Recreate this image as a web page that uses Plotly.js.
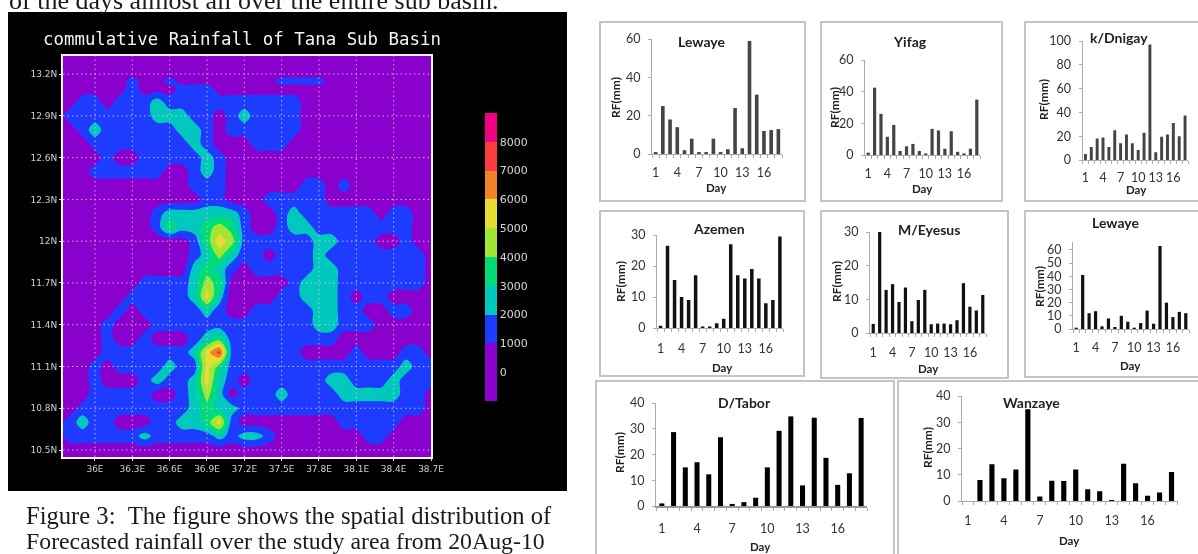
<!DOCTYPE html>
<html>
<head>
<meta charset="utf-8">
<script src="https://cdn.plot.ly/plotly-3.0.1.min.js"></script>
<style>html,body{margin:0;padding:0;background:#fff}#chart{width:1198px;height:554px;filter:blur(0.5px)}</style>
</head>
<body>
<div id="chart"></div>
<script>
const W = 1198, H = 554;

// ---- rainfall map: each digit is the colour band read at that grid point (band n = n*1000..n*1000+1000)
const lons = [35.7,35.8,35.9,36,36.1,36.2,36.3,36.4,36.5,36.6,36.7,36.8,36.9,37,37.1,37.2,37.3,37.4,37.5,37.6,37.7,37.8,37.9,38,38.1,38.2,38.3,38.4,38.5,38.6,38.7];
const lats = [13.4,13.3,13.2,13.15,13.1,13,12.9,12.8,12.7,12.6,12.5,12.4,12.3,12.2,12.1,12,11.9,11.8,11.7,11.6,11.5,11.4,11.3,11.2,11.1,11,10.9,10.8,10.7,10.6,10.5,10.4];
const rainBands = [
 "0000000000000000000000000000000",
 "0000000000000000000000000000000",
 "0000000000000000000000000000000",
 "0000001001000000001111000000000",
 "0000001000111000000000000000000",
 "0011011121111111111100000000000",
 "0111111122211012111100000000000",
 "0012111111221011111100000000000",
 "0001111111121000111000000000000",
 "0000100111112100000000000000000",
 "0001111110012100000000000000000",
 "0000000000011100000011010000000",
 "0000000000001100011111000000000",
 "0000000012222221001211111101100",
 "0000000013223431001221111111100",
 "0000000000013541111112211100100",
 "0000000000012421101112111111110",
 "0000000000023210111112211111110",
 "0000000111124300000122211111110",
 "0000001111125200001122210110000",
 "0000010111112100111112211001100",
 "0000100011111111111112211100000",
 "0000100100012311111111100000000",
 "0000111111125711111100001000110",
 "0001011112115311111111111111211",
 "0001000121125210111111221112111",
 "0001111100124201112111122222110",
 "0011111111123221111111111111110",
 "0121100011223510000000011111000",
 "0111111211111212210000000110000",
 "0000000000000000000000000000000",
 "0000000000000000000000000000000"
];
const rainZ = rainBands.map(r => r.split("").map(d => Number(d) * 1000 + 500));
const bandColors = ["#8a00cc","#8a00cc","#1e3cff","#00c8bc","#00dc78","#a0e632","#e6dc32","#f08228","#fa3c3c","#f00082"];
const lonTicks = [36,36.3,36.6,36.9,37.2,37.5,37.8,38.1,38.4,38.7];
const latTicks = [13.2,12.9,12.6,12.3,12,11.7,11.4,11.1,10.8,10.5];
const legendTicks = [0,1000,2000,3000,4000,5000,6000,7000,8000];

// ---- station rainfall (mm) for days 1..18
const days = [1,2,3,4,5,6,7,8,9,10,11,12,13,14,15,16,17,18];
const dayTicks = [1,4,7,10,13,16];
const lewayeA = [1,25,18,14,2,8,1,1,8,1,2.5,24,3,59,31,12,12.5,13];
const yifag = [1.5,42.5,26,11.5,19,2.5,5.5,7,2.5,1,16.5,15.5,4,15,2,1,4,35];
const dnigay = [5,11,18,19,11,25,14,21.5,14,8.5,23,97,6.5,19.5,21.5,31,20,37.5];
const azemen = [0.7,26.5,15.5,10,9,17,0.5,0.5,1.5,3,27,17,16,19,16,8,9,29.5];
const eyesus = [2.7,30,12.8,14.5,9.2,13.5,3.5,9.8,12.8,2.6,2.8,2.8,2.6,3.8,14.8,7.8,6.7,11.3];
const lewayeB = [1,41,12,13.5,2,8,1.5,10,5.5,1,4.5,14,4,63,20,9,13,12];
const dtabor = [1,28.7,15,17,12.3,26.7,0.8,1.5,3.2,15,29.2,34.8,8,34.3,18.7,8.2,12.7,34.2];
const wanzaye = [0,8,14,8.7,12,35,1.7,7.7,7.6,12,4.5,3.7,0.4,14.2,6.8,2,3.2,11];

// ---- panel layout (pixels)
const panels = [
 {title:"Lewaye",  vals:lewayeA,color:"#444",gap:.5, box:[600,22,805,201], ax:[652,782,39,154],   ymax:60, dt:20,so:7, tp:[701,42],  dp:[716,188],  rf:[616,98]},
 {title:"Yifag",   vals:yifag,  color:"#444",gap:.5, box:[821,22,1002,201],ax:[865,980,60,155],   ymax:60, dt:20,so:7, tp:[910,42],  dp:[922.5,189],rf:[834,108]},
 {title:"k/Dnigay",vals:dnigay, color:"#444",gap:.5, box:[1025,22,1206,201],ax:[1082.5,1188,41,160],ymax:100,dt:20,so:6, tp:[1119,38], dp:[1136.5,189.5],rf:[1043,100]},
 {title:"Azemen",  vals:azemen, color:"#111",gap:.5, box:[600,211,804,376],ax:[657,783.4,235,328],ymax:30, dt:10,so:9, tp:[719,228], dp:[722,367],  rf:[620,282]},
 {title:"M/Eyesus",vals:eyesus, color:"#111",gap:.5, box:[821,211,1008,378],ax:[870,986,232,333], ymax:30, dt:10,so:8, tp:[929,229], dp:[928,368],  rf:[836,282]},
 {title:"Lewaye",  vals:lewayeB,color:"#111",gap:.5, box:[1025,211,1206,377],ax:[1073,1189,242,329],ymax:66, dt:10,so:7, tp:[1115,223],dp:[1130,365], rf:[1039,287]},
 {title:"D/Tabor", vals:dtabor, color:"#000",gap:.57,box:[596,381,894,560],ax:[656,867,403,506],  ymax:40, dt:10,so:10,tp:[744,402], dp:[760.5,546],rf:[619,453],thick:true},
 {title:"Wanzaye", vals:wanzaye,color:"#000",gap:.57,box:[898,381,1206,560],ax:[962,1177.5,396,501],ymax:40,dt:10,so:8, tp:[1031,402],dp:[1069,540], rf:[928,448]}
];
const mapBox = {outer:[8,12,567,491], plot:[63,431,56,457]};
const lonRange = [35.743,38.7], latRange = [10.45,13.33];

const px = v => v / W, py = v => 1 - v / H;
const labelFont = {family:"Lato, 'Open Sans', sans-serif", size:12.5, color:"#333"};
const traces = [], shapes = [], annotations = [];
const layout = {
  width:W, height:H, margin:{l:0,r:0,t:0,b:0,pad:0}, paper_bgcolor:"#fff", plot_bgcolor:"rgba(0,0,0,0)",
  showlegend:false, shapes, annotations
};

// page text
function pageText(text, x, y, size, extra) {
  annotations.push(Object.assign({text, xref:"paper", yref:"paper", x:px(x), y:py(y), showarrow:false,
    xanchor:"center", yanchor:"middle", borderpad:0,
    font:{family:"Lato, sans-serif", size, color:"#333"}}, extra || {}));
}
const serif = size => ({family:"'Liberation Serif', serif", size, color:"#1a1a1a"});
pageText("of the days almost all over the entire sub basin.", 8, 0, 26, {xanchor:"left", font:serif(26)});
pageText("Figure 3:&nbsp;&nbsp;The figure shows the spatial distribution of", 25, 515, 24.6, {xanchor:"left", font:serif(24.6)});
pageText("Forecasted rainfall over the study area from 20Aug-10", 25, 540.5, 23.8, {xanchor:"left", font:serif(23.8)});

// map
shapes.push({type:"rect", xref:"paper", yref:"paper", layer:"below", x0:px(mapBox.outer[0]), x1:px(mapBox.outer[2]),
  y0:py(mapBox.outer[3]), y1:py(mapBox.outer[1]), fillcolor:"#000", line:{width:0}});
const step = 1 / bandColors.length;
traces.push({
  type:"contour", x:lons, y:lats, z:rainZ, xaxis:"x", yaxis:"y",
  autocontour:false, contours:{start:0,end:8000,size:1000,coloring:"fill",showlines:false},
  zmin:-1000, zmax:9000, line:{width:0, smoothing:1}, hoverinfo:"skip",
  colorscale:bandColors.flatMap((c,i)=>[[i*step,c],[(i+1)*step,c]]),
  colorbar:{xref:"paper", yref:"paper", x:px(484.5), xanchor:"left", y:py(257), yanchor:"middle",
    thickness:12, thicknessmode:"pixels", len:288, lenmode:"pixels", xpad:0, ypad:0, outlinewidth:0, borderwidth:0,
    tickmode:"array", tickvals:legendTicks, ticks:"", ticklabelposition:"outside",
    tickfont:{family:"'DejaVu Sans', sans-serif", size:11, color:"#d8d8d8"}, bgcolor:"rgba(0,0,0,0)"}
});
const mapTick = {family:"'DejaVu Sans', sans-serif", size:9, color:"#d0d0d0"};
layout.xaxis = {domain:[px(mapBox.plot[0]),px(mapBox.plot[1])], range:lonRange, tickmode:"array", tickvals:lonTicks,
  ticktext:lonTicks.map(v=>v+"E"), tickfont:mapTick, ticks:"outside", ticklen:2, tickcolor:"#ddd", showgrid:false, zeroline:false,
  showline:true, mirror:true, linecolor:"#f4f4f4", linewidth:2, anchor:"y", layer:"above traces", tickangle:0, ticklabelstandoff:0};
layout.yaxis = {domain:[py(mapBox.plot[3]),py(mapBox.plot[2])], range:latRange, tickmode:"array", tickvals:latTicks,
  ticktext:latTicks.map(v=>v+"N"), tickfont:mapTick, ticks:"outside", ticklen:2, tickcolor:"#ddd", showgrid:false, zeroline:false,
  showline:true, mirror:true, linecolor:"#f4f4f4", linewidth:2, anchor:"x", layer:"above traces"};
const gridLine = {color:"rgba(215,205,225,0.85)", width:1, dash:"1.5px,3px"};
lonTicks.slice(0,-1).forEach(v => shapes.push({type:"line", xref:"x", yref:"y", layer:"above", x0:v, x1:v, y0:latRange[0], y1:latRange[1], line:gridLine}));
latTicks.forEach(v => shapes.push({type:"line", xref:"x", yref:"y", layer:"above", x0:lonRange[0], x1:lonRange[1], y0:v, y1:v, line:gridLine}));
pageText("commulative Rainfall of Tana Sub Basin", 242, 39, 17.4, {font:{family:"'DejaVu Sans Mono', monospace", size:17.4, color:"#f4f4f4"}});

// station bar charts
panels.forEach((p, i) => {
  const n = i + 2, xId = "x" + n, yId = "y" + n;
  shapes.push({type:"rect", xref:"paper", yref:"paper", layer:"below", x0:px(p.box[0]), x1:px(p.box[2]), y0:py(p.box[3]), y1:py(p.box[1]),
    fillcolor:"#fff", line:{color:"#c4c4c4", width:2}});
  traces.push({type:"bar", x:days, y:p.vals, xaxis:xId, yaxis:yId, marker:{color:p.color, line:{width:0}}, width:1-p.gap, hoverinfo:"skip"});
  const lineW = p.thick ? 2 : 1, lineC = p.thick ? "#999" : "#aaa";
  layout["xaxis"+n] = {domain:[px(p.ax[0]),px(p.ax[1])], range:[0.5,18.5], anchor:yId, tickmode:"array", tickvals:dayTicks, ticks:"",
    tickfont:labelFont, ticklabelstandoff:p.so, showgrid:false, zeroline:false, showline:true, linecolor:lineC, linewidth:lineW, tickangle:0,
    minor:{tickmode:"array", tickvals:days.map(d=>d-0.5).concat([18.5]), ticks:"outside", ticklen:3, tickcolor:"#aaa", showgrid:false}};
  layout["yaxis"+n] = {domain:[py(p.ax[3]),py(p.ax[2])], range:[0,p.ymax], anchor:xId, tick0:0, dtick:p.dt, ticks:"outside", ticklen:3, tickcolor:"#aaa",
    tickfont:labelFont, ticklabelstandoff:5, showgrid:false, zeroline:false, showline:true, linecolor:"#aaa", linewidth:1};
  pageText("<b>"+p.title+"</b>", p.tp[0], p.tp[1], 14, {font:{family:"Lato, sans-serif", size:14, color:"#222"}});
  pageText("<b>Day</b>", p.dp[0], p.dp[1], 11.5, {font:{family:"Lato, sans-serif", size:11.5, color:"#222"}});
  pageText("<b>RF(mm)</b>", p.rf[0], p.rf[1], 12, {textangle:-90, font:{family:"Lato, sans-serif", size:12, color:"#222"}});
});

Plotly.newPlot("chart", traces, layout, {staticPlot:true, displayModeBar:false});
</script>
</body>
</html>
